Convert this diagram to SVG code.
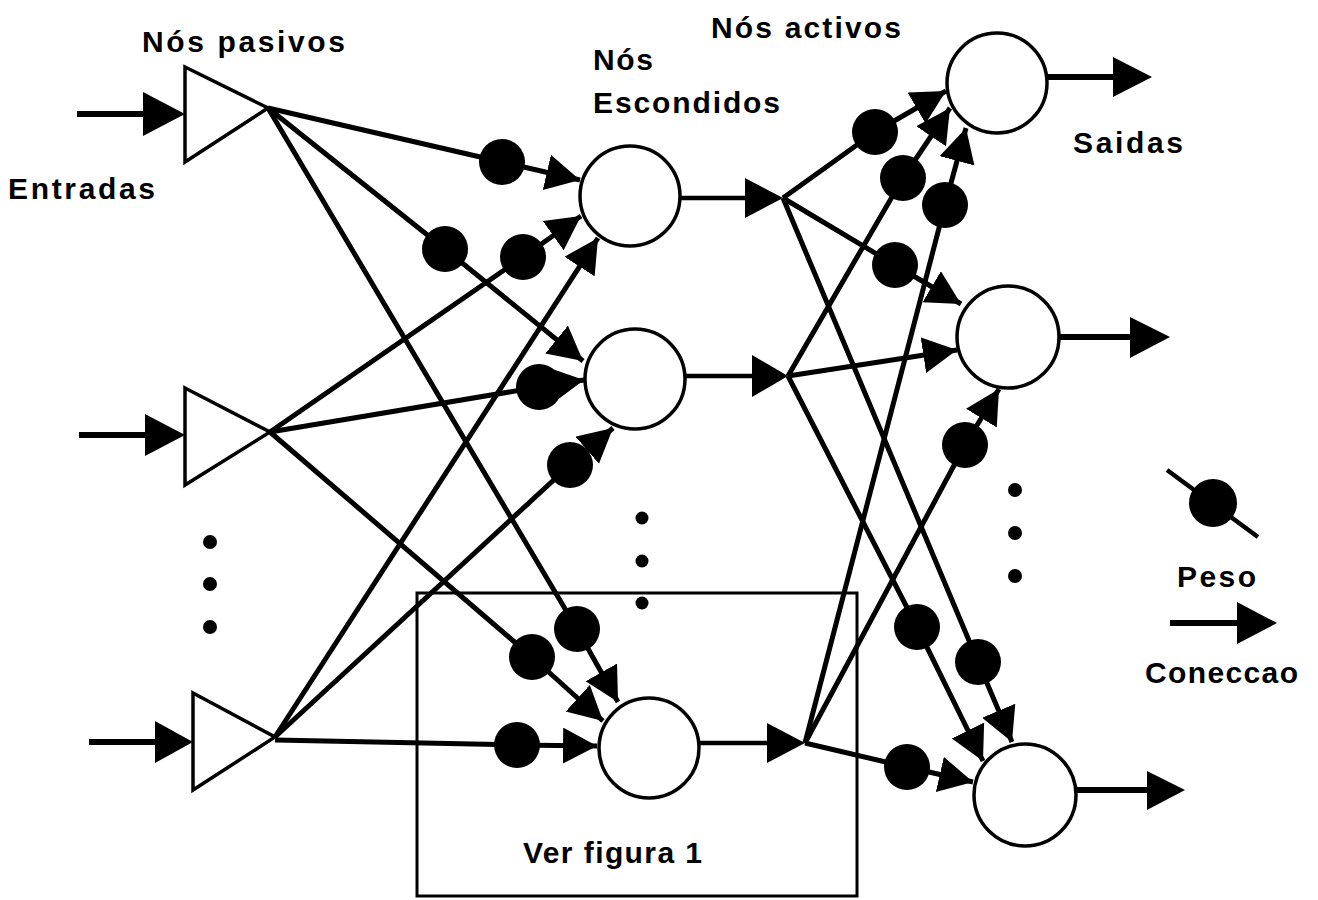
<svg xmlns="http://www.w3.org/2000/svg" width="1318" height="900" viewBox="0 0 1318 900">
<defs>
<style>
.lbl{font-family:"Liberation Sans",Arial,sans-serif;font-weight:bold;font-size:30px;fill:#000}
.node{fill:#fff;stroke:#000;stroke-width:3.5}
.conn{fill:none;stroke:#000;stroke-width:5;stroke-linejoin:round;marker-end:url(#ah)}
.plain{fill:none;stroke:#000;stroke-width:4.5}
.io{fill:none;stroke:#000;stroke-width:6}
.head{fill:#000}
.w{fill:#000}
.dot{fill:#000}
</style>
<marker id="ah" markerUnits="userSpaceOnUse" markerWidth="38" markerHeight="38" refX="34" refY="18" orient="auto" viewBox="0 0 38 38">
<path d="M0,0 L34,18 L0,36 Z" fill="#000"/>
</marker>
</defs>
<rect width="1318" height="900" fill="#fff"/>

<g id="labels">
<text class="lbl" x="142" y="52" textLength="203" lengthAdjust="spacing">Nós pasivos</text>
<text class="lbl" x="8" y="199" textLength="147" lengthAdjust="spacing">Entradas</text>
<text class="lbl" x="593" y="70" textLength="60" lengthAdjust="spacing">Nós</text>
<text class="lbl" x="593" y="113" textLength="187" lengthAdjust="spacing">Escondidos</text>
<text class="lbl" x="711" y="38" textLength="190" lengthAdjust="spacing">Nós activos</text>
<text class="lbl" x="1073" y="153" textLength="110" lengthAdjust="spacing">Saidas</text>
<text class="lbl" x="1177" y="587" textLength="79" lengthAdjust="spacing">Peso</text>
<text class="lbl" x="1145" y="683" textLength="153" lengthAdjust="spacing">Coneccao</text>
<text class="lbl" x="523" y="863" textLength="179" lengthAdjust="spacing">Ver figura 1</text>
</g>

<g id="box-ver-figura">
<rect x="417" y="593" width="440" height="303" fill="none" stroke="#000" stroke-width="3"/>
</g>

<g id="connectors">
<!-- input arrows -->
<line class="io" x1="77" y1="114" x2="147" y2="114"/>
<polygon class="head" points="143,92 185,114 143,136"/>
<line class="io" x1="79" y1="435" x2="147" y2="435"/>
<polygon class="head" points="145,414 185,435 145,456"/>
<line class="io" x1="89" y1="742" x2="157" y2="742"/>
<polygon class="head" points="155,721 193,742 155,763"/>
<!-- hidden outputs -->
<line class="plain" x1="680" y1="198" x2="750" y2="198" stroke-width="5"/>
<polygon class="head" points="745,178 783,198 745,218"/>
<line class="plain" x1="685" y1="376" x2="756" y2="376" stroke-width="5"/>
<polygon class="head" points="752,355 788,376 752,397"/>
<line class="plain" x1="700" y1="743" x2="770" y2="743" stroke-width="5"/>
<polygon class="head" points="767,723 805,743 767,763"/>
<!-- outputs -->
<line class="io" x1="1047" y1="77" x2="1117" y2="77"/>
<polygon class="head" points="1113,57 1152,77 1113,97"/>
<line class="io" x1="1060" y1="337" x2="1134" y2="337"/>
<polygon class="head" points="1130,317 1170,337 1130,358"/>
<line class="io" x1="1077" y1="790" x2="1151" y2="790"/>
<polygon class="head" points="1147,771 1185,790 1147,810"/>
<!-- input to hidden -->
<polyline class="conn" points="268,108 502,162 580,180"/>
<polyline class="conn" points="268,108 445,249 583,361"/>
<polyline class="conn" points="268,108 577,629 618,702"/>
<polyline class="conn" points="270,432 523,257 581,216"/>
<polyline class="conn" points="270,432 539,387 584,380"/>
<polyline class="conn" points="270,432 532,657 603,721"/>
<polyline class="conn" points="275,737 598,238"/>
<polyline class="conn" points="275,737 570,465 613,428"/>
<polyline class="conn" points="275,740 517,745 597,746"/>
<!-- hidden to output -->
<polyline class="conn" points="783,198 875,132 946,91"/>
<polyline class="conn" points="783,198 895,265 961,304"/>
<polyline class="conn" points="783,198 978,662 1012,742"/>
<polyline class="conn" points="788,376 903,178 950,108"/>
<polyline class="conn" points="788,376 957,350"/>
<polyline class="conn" points="788,376 917,627 983,761"/>
<polyline class="conn" points="805,743 945,205 966,128"/>
<polyline class="conn" points="805,743 965,445 999,389"/>
<polyline class="conn" points="805,743 907,767 973,782"/>
<!-- legend -->
<line class="plain" x1="1167" y1="470" x2="1258" y2="537" stroke-width="4"/>
<line class="io" x1="1170" y1="623" x2="1241" y2="623"/>
<polygon class="head" points="1237,602 1277,623 1237,644"/>
</g>

<g id="weights">
<circle class="w" cx="502" cy="162" r="23"/>
<circle class="w" cx="445" cy="249" r="23"/>
<circle class="w" cx="577" cy="629" r="23"/>
<circle class="w" cx="523" cy="257" r="23"/>
<circle class="w" cx="539" cy="387" r="23"/>
<circle class="w" cx="532" cy="657" r="23"/>
<circle class="w" cx="570" cy="465" r="23"/>
<circle class="w" cx="517" cy="745" r="23"/>
<circle class="w" cx="875" cy="132" r="23"/>
<circle class="w" cx="895" cy="265" r="23"/>
<circle class="w" cx="978" cy="662" r="23"/>
<circle class="w" cx="903" cy="178" r="23"/>
<circle class="w" cx="917" cy="627" r="23"/>
<circle class="w" cx="945" cy="205" r="23"/>
<circle class="w" cx="965" cy="445" r="23"/>
<circle class="w" cx="907" cy="767" r="23"/>
<circle class="w" cx="1213" cy="503" r="24"/>
</g>

<g id="ellipsis">
<circle class="dot" cx="210" cy="542" r="7"/>
<circle class="dot" cx="210" cy="584" r="7"/>
<circle class="dot" cx="210" cy="627" r="7"/>
<circle class="dot" cx="642" cy="518" r="6.5"/>
<circle class="dot" cx="642" cy="561" r="6.5"/>
<circle class="dot" cx="642" cy="603" r="6.5"/>
<circle class="dot" cx="1015" cy="490" r="7"/>
<circle class="dot" cx="1015" cy="533" r="7"/>
<circle class="dot" cx="1015" cy="576" r="7"/>
</g>

<g id="input-1"><polygon class="node" points="185,67 268,108 185,162"/></g>
<g id="input-2"><polygon class="node" points="185,388 270,432 185,485"/></g>
<g id="input-3"><polygon class="node" points="193,693 275,737 193,790"/></g>

<g id="hidden-1"><circle class="node" cx="630" cy="196" r="50"/></g>
<g id="hidden-2"><circle class="node" cx="635" cy="379" r="50"/></g>
<g id="hidden-3"><circle class="node" cx="649" cy="748" r="50"/></g>

<g id="output-1"><circle class="node" cx="997" cy="83" r="50"/></g>
<g id="output-2"><circle class="node" cx="1008" cy="337" r="51"/></g>
<g id="output-3"><circle class="node" cx="1025" cy="795" r="51"/></g>
</svg>
